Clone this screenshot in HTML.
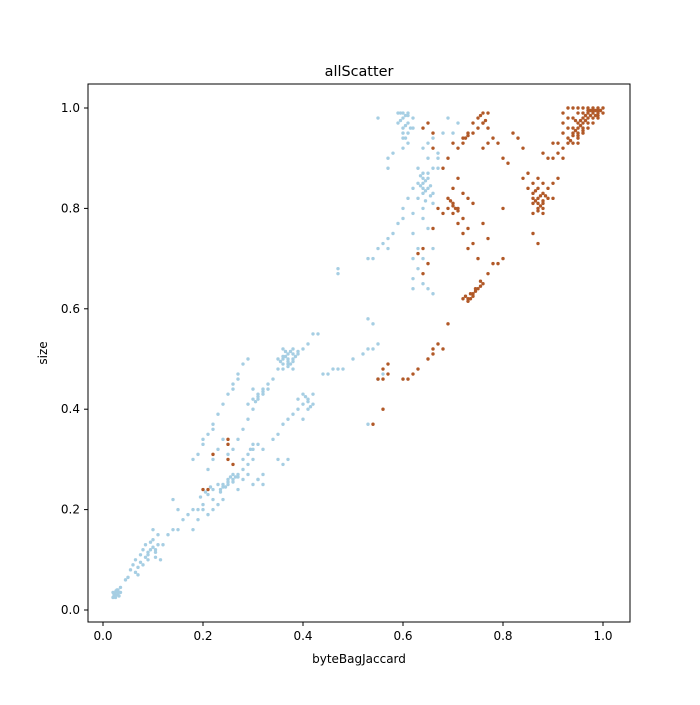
<!DOCTYPE html>
<html><head><meta charset="utf-8"><style>
body{margin:0;background:#fff;font-family:"Liberation Sans","DejaVu Sans",sans-serif}
svg text{font-family:"DejaVu Sans","Liberation Sans",sans-serif;font-size:12px;fill:#000}
</style></head><body>
<svg id="chart" width="700" height="700" viewBox="0 0 700 700">
<rect width="700" height="700" fill="#fff"/>
<text x="359" y="76" text-anchor="middle" style="font-size:14.4px">allScatter</text>
<g id="pts"></g>
<rect x="88" y="84" width="542" height="538" fill="none" stroke="#000" stroke-width="1"/>
<g id="axes"></g>
<text x="359" y="663" text-anchor="middle">byteBagJaccard</text>
<text transform="translate(47,353) rotate(-90)" text-anchor="middle">size</text>
</svg>
<script>
const xTicks=[0,0.2,0.4,0.6,0.8,1.0];
const yTicks=[0,0.2,0.4,0.6,0.8,1.0];
const tickLabels=["0.0","0.2","0.4","0.6","0.8","1.0"];
const blueSeries="0.02,0.025 0.025,0.03 0.03,0.035 0.028,0.04 0.022,0.03 0.032,0.028 0.035,0.045 0.026,0.038 0.03,0.03 0.024,0.034 0.045,0.06 0.05,0.065 0.055,0.08 0.06,0.09 0.065,0.1 0.07,0.085 0.075,0.11 0.08,0.12 0.085,0.13 0.09,0.115 0.095,0.12 0.1,0.14 0.105,0.12 0.11,0.15 0.1,0.16 0.09,0.1 0.08,0.09 0.07,0.07 0.115,0.1 0.12,0.13 0.105,0.105 0.095,0.135 0.085,0.105 0.075,0.095 0.065,0.075 0.13,0.15 0.14,0.16 0.15,0.16 0.16,0.18 0.17,0.19 0.18,0.2 0.15,0.2 0.14,0.22 0.18,0.16 0.19,0.2 0.2,0.21 0.21,0.23 0.22,0.24 0.23,0.25 0.24,0.25 0.25,0.26 0.26,0.27 0.27,0.27 0.22,0.22 0.23,0.21 0.24,0.22 0.22,0.2 0.21,0.19 0.2,0.2 0.19,0.18 0.25,0.25 0.28,0.28 0.29,0.29 0.26,0.255 0.245,0.245 0.235,0.235 0.215,0.245 0.205,0.235 0.195,0.225 0.255,0.265 0.265,0.265 0.28,0.3 0.29,0.31 0.3,0.32 0.31,0.33 0.32,0.32 0.3,0.3 0.28,0.26 0.29,0.27 0.31,0.26 0.3,0.25 0.32,0.27 0.27,0.24 0.18,0.3 0.19,0.31 0.2,0.33 0.21,0.35 0.22,0.37 0.23,0.39 0.24,0.41 0.25,0.43 0.26,0.45 0.27,0.47 0.28,0.49 0.29,0.5 0.27,0.46 0.26,0.44 0.22,0.36 0.2,0.34 0.21,0.28 0.22,0.3 0.23,0.32 0.24,0.34 0.25,0.31 0.26,0.32 0.27,0.34 0.28,0.36 0.29,0.38 0.3,0.4 0.31,0.42 0.32,0.43 0.33,0.44 0.34,0.46 0.35,0.48 0.36,0.5 0.37,0.51 0.38,0.52 0.37,0.49 0.36,0.48 0.38,0.5 0.36,0.52 0.35,0.5 0.39,0.51 0.38,0.48 0.37,0.5 0.36,0.49 0.4,0.52 0.42,0.55 0.43,0.55 0.41,0.53 0.31,0.43 0.3,0.42 0.32,0.44 0.33,0.45 0.29,0.41 0.3,0.44 0.39,0.4 0.4,0.41 0.41,0.42 0.42,0.43 0.4,0.43 0.41,0.4 0.42,0.41 0.39,0.42 0.38,0.39 0.37,0.38 0.36,0.37 0.35,0.35 0.34,0.34 0.4,0.38 0.36,0.29 0.37,0.3 0.35,0.3 0.31,0.26 0.32,0.25 0.44,0.47 0.45,0.47 0.46,0.48 0.47,0.48 0.48,0.48 0.5,0.5 0.52,0.51 0.53,0.52 0.54,0.52 0.55,0.53 0.53,0.37 0.55,0.46 0.56,0.47 0.47,0.68 0.47,0.67 0.53,0.7 0.54,0.7 0.55,0.72 0.56,0.73 0.57,0.74 0.57,0.72 0.58,0.75 0.59,0.77 0.6,0.78 0.6,0.8 0.61,0.82 0.55,0.98 0.53,0.58 0.54,0.57 0.59,0.99 0.6,0.99 0.61,0.99 0.6,0.98 0.59,0.97 0.6,0.96 0.61,0.95 0.6,0.94 0.61,0.97 0.62,0.96 0.61,0.93 0.62,0.98 0.6,0.92 0.57,0.9 0.57,0.88 0.58,0.91 0.63,0.88 0.64,0.87 0.64,0.85 0.65,0.84 0.64,0.83 0.63,0.82 0.65,0.86 0.66,0.88 0.65,0.9 0.64,0.8 0.63,0.85 0.62,0.84 0.66,0.83 0.64,0.78 0.65,0.76 0.66,0.81 0.65,0.93 0.66,0.94 0.67,0.91 0.68,0.95 0.7,0.95 0.71,0.97 0.69,0.98 0.62,0.75 0.62,0.7 0.62,0.66 0.62,0.64 0.63,0.72 0.63,0.68 0.64,0.65 0.65,0.64 0.66,0.63 0.64,0.7 0.66,0.72 0.62,0.79 0.67,0.88 0.67,0.9 0.64,0.92";
const blueDense="0.365,0.505 0.375,0.515 0.385,0.505 0.37,0.495 0.38,0.495 0.365,0.515 0.355,0.495 0.39,0.515 0.37,0.485 0.38,0.51 0.36,0.505 0.375,0.49 0.645,0.855 0.635,0.845 0.645,0.835 0.655,0.845 0.64,0.86 0.65,0.87 0.655,0.825 0.635,0.865 0.645,0.815 0.64,0.84 0.605,0.985 0.595,0.975 0.605,0.965 0.6,0.95 0.61,0.985 0.595,0.99 0.615,0.96 0.605,0.94 0.31,0.425 0.32,0.435 0.305,0.415 0.41,0.415 0.405,0.425 0.415,0.405 0.26,0.26 0.27,0.265 0.25,0.255 0.24,0.245 0.235,0.24 0.3,0.33 0.295,0.32 0.1,0.125 0.105,0.115 0.09,0.11 0.11,0.13 0.03,0.04 0.025,0.025 0.035,0.035 0.02,0.035";
const brownSeries="0.92,0.95 0.93,0.94 0.94,0.96 0.95,0.97 0.96,0.98 0.97,0.99 0.98,1.0 0.99,1.0 1.0,1.0 0.99,0.99 0.98,0.98 0.97,0.97 0.96,0.96 0.95,0.95 0.94,0.93 0.93,0.96 0.94,0.98 0.95,0.99 0.96,1.0 0.97,1.0 0.93,1.0 0.92,0.99 0.94,1.0 1.0,0.99 0.99,0.98 0.98,0.97 0.97,0.98 0.96,0.97 0.95,0.96 0.95,0.94 0.96,0.95 0.97,0.96 0.98,0.99 0.96,0.99 0.95,1.0 0.92,0.97 0.93,0.98 0.91,0.93 0.92,0.92 0.94,0.95 0.93,0.93 0.95,0.93 0.85,0.87 0.86,0.85 0.87,0.84 0.87,0.82 0.88,0.81 0.86,0.83 0.88,0.83 0.89,0.82 0.87,0.8 0.88,0.79 0.86,0.81 0.89,0.84 0.9,0.85 0.91,0.86 0.84,0.86 0.85,0.84 0.86,0.79 0.9,0.82 0.88,0.85 0.87,0.86 0.88,0.91 0.89,0.9 0.9,0.9 0.91,0.91 0.92,0.9 0.9,0.93 0.84,0.92 0.83,0.94 0.82,0.95 0.8,0.9 0.81,0.89 0.86,0.75 0.87,0.73 0.72,0.94 0.73,0.95 0.72,0.93 0.74,0.97 0.75,0.98 0.76,0.97 0.77,0.96 0.75,0.96 0.76,0.99 0.77,0.99 0.74,0.95 0.71,0.92 0.7,0.93 0.69,0.9 0.68,0.88 0.66,0.92 0.65,0.97 0.64,0.96 0.66,0.95 0.78,0.94 0.79,0.93 0.77,0.93 0.76,0.92 0.69,0.82 0.7,0.81 0.71,0.8 0.7,0.79 0.69,0.8 0.72,0.78 0.71,0.77 0.73,0.76 0.72,0.75 0.74,0.73 0.73,0.72 0.75,0.7 0.7,0.84 0.71,0.86 0.72,0.83 0.73,0.82 0.74,0.81 0.76,0.77 0.77,0.74 0.67,0.8 0.68,0.79 0.66,0.76 0.64,0.72 0.65,0.69 0.64,0.67 0.63,0.71 0.8,0.8 0.72,0.62 0.73,0.62 0.74,0.63 0.745,0.635 0.75,0.64 0.76,0.65 0.755,0.645 0.73,0.615 0.725,0.625 0.735,0.63 0.77,0.67 0.78,0.69 0.79,0.69 0.8,0.7 0.69,0.57 0.67,0.53 0.68,0.52 0.66,0.52 0.66,0.51 0.65,0.5 0.63,0.48 0.62,0.47 0.61,0.46 0.6,0.46 0.57,0.47 0.56,0.46 0.55,0.46 0.56,0.48 0.57,0.49 0.56,0.4 0.54,0.37 0.2,0.24 0.21,0.24 0.22,0.31 0.25,0.33 0.25,0.34 0.26,0.29 0.25,0.3";
const brownDense="0.955,0.975 0.965,0.985 0.975,0.995 0.985,0.995 0.995,0.995 0.975,0.985 0.985,0.985 0.965,0.975 0.955,0.965 0.945,0.955 0.94,0.945 0.95,0.945 0.96,0.955 0.935,0.935 0.99,0.995 0.98,0.995 0.97,0.995 0.99,0.985 0.945,0.975 0.875,0.825 0.865,0.815 0.88,0.815 0.87,0.81 0.875,0.805 0.865,0.835 0.885,0.825 0.87,0.795 0.88,0.8 0.86,0.82 0.705,0.8 0.7,0.805 0.71,0.795 0.695,0.815 0.74,0.625 0.745,0.64 0.735,0.62 0.755,0.655 0.76,0.97 0.765,0.975 0.755,0.985 0.73,0.945 0.725,0.94";
const NS="http://www.w3.org/2000/svg";
function xs(v){return 103+v*500;}
function ys(v){return 610-v*502;}
function parse(s){return s.split(" ").map(p=>p.split(",").map(Number));}
const pts=document.getElementById("pts");
function draw(series,color,name){
  parse(series).forEach(([x,y])=>{
    const c=document.createElementNS(NS,"circle");
    c.setAttribute("cx",xs(x));c.setAttribute("cy",ys(y));c.setAttribute("r",1.7);c.setAttribute("fill",color);
    
    
    pts.appendChild(c);
  });
}
draw(blueSeries,"#a6cee3","blue-point");
draw(blueDense,"#a6cee3","blue-point");
draw(brownSeries,"#b15928","brown-point");
draw(brownDense,"#b15928","brown-point");
const axes=document.getElementById("axes");
xTicks.forEach((t,i)=>{
  const l=document.createElementNS(NS,"line");
  l.setAttribute("x1",xs(t));l.setAttribute("x2",xs(t));l.setAttribute("y1",622);l.setAttribute("y2",626);l.setAttribute("stroke","#000");
  
  
  axes.appendChild(l);
  const tx=document.createElementNS(NS,"text");
  tx.setAttribute("x",xs(t));tx.setAttribute("y",640);tx.setAttribute("text-anchor","middle");tx.textContent=tickLabels[i];
  
  
  axes.appendChild(tx);
});
yTicks.forEach((t,i)=>{
  const l=document.createElementNS(NS,"line");
  l.setAttribute("x1",84);l.setAttribute("x2",88);l.setAttribute("y1",ys(t));l.setAttribute("y2",ys(t));l.setAttribute("stroke","#000");
  
  
  axes.appendChild(l);
  const tx=document.createElementNS(NS,"text");
  tx.setAttribute("x",80);tx.setAttribute("y",ys(t)+4);tx.setAttribute("text-anchor","end");tx.textContent=tickLabels[i];
  
  
  axes.appendChild(tx);
});
</script>
</body></html>
